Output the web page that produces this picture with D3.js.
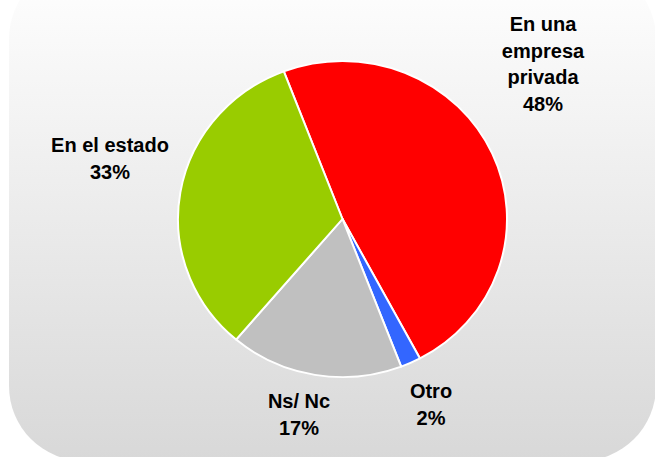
<!DOCTYPE html>
<html>
<head>
<meta charset="utf-8">
<script src="https://cdn.jsdelivr.net/npm/d3@7"></script>
<style>
  html, body { margin: 0; padding: 0; background: #ffffff; }
  svg { display: block; }
</style>
</head>
<body>
<svg id="chart" width="655" height="457"></svg>
<script>
// datos del grafico
const categories = ["En una empresa privada", "Otro", "Ns/ Nc", "En el estado"];
const values = [48, 2, 17, 33];
const percentLabels = ["48%", "2%", "17%", "33%"];
const labelLines = [["En una", "empresa", "privada"], ["Otro"], ["Ns/ Nc"], ["En el estado"]];
const colors = ["#ff0000", "#3366ff", "#c0c0c0", "#99cc00"];

// posiciones de las etiquetas (centro x, linea base de la primera linea)
const labelPos = [[543, 31], [431, 398], [299, 408], [110, 152]];

const svg = d3.select("#chart");
const width = 655, height = 457;

// fondo con degradado
const defs = svg.append("defs");
const grad = defs.append("linearGradient")
    .attr("id", "bg")
    .attr("x1", 0).attr("y1", 0).attr("x2", 0).attr("y2", 1);
grad.append("stop").attr("offset", "0%").attr("stop-color", "#ffffff");
grad.append("stop").attr("offset", "100%").attr("stop-color", "#d8d8d8");

svg.append("rect")
    .attr("x", 9)
    .attr("y", -36)
    .attr("width", 647)
    .attr("height", 497)
    .attr("rx", 75)
    .attr("ry", 75)
    .style("fill", "url(#bg)");

// torta
const cx = 342.5, cy = 219;
const radius = 164.5;
const startDeg = -20.9;

const pie = d3.pie()
    .sort(null)
    .value(d => d)
    .startAngle(startDeg * Math.PI / 180)
    .endAngle((startDeg + 360) * Math.PI / 180);

const arc = d3.arc()
    .innerRadius(0)
    .outerRadius(radius);

const g = svg.append("g")
    .attr("transform", `translate(${cx},${cy}) scale(1,0.961)`);

g.selectAll("path")
    .data(pie(values))
    .enter()
    .append("path")
    .attr("d", arc)
    .style("fill", (d, i) => colors[i])
    .style("stroke", "#ffffff")
    .style("stroke-width", 2)
    .style("stroke-linejoin", "round");

// etiquetas
const lineH = 26.6;
const labels = svg.selectAll(".label")
    .data(categories)
    .enter()
    .append("text")
    .attr("class", "label")
    .attr("x", (d, i) => labelPos[i][0])
    .attr("y", (d, i) => labelPos[i][1])
    .style("text-anchor", "middle")
    .style("font-family", "'Liberation Sans', Arial, sans-serif")
    .style("font-weight", "bold")
    .style("font-size", "20px")
    .style("fill", "#000000");

labels.each(function (d, i) {
    const t = d3.select(this);
    const lines = labelLines[i].concat([percentLabels[i]]);
    lines.forEach((txt, k) => {
        t.append("tspan")
            .attr("x", labelPos[i][0])
            .attr("dy", k === 0 ? 0 : lineH)
            .text(txt);
    });
});
</script>
</body>
</html>
